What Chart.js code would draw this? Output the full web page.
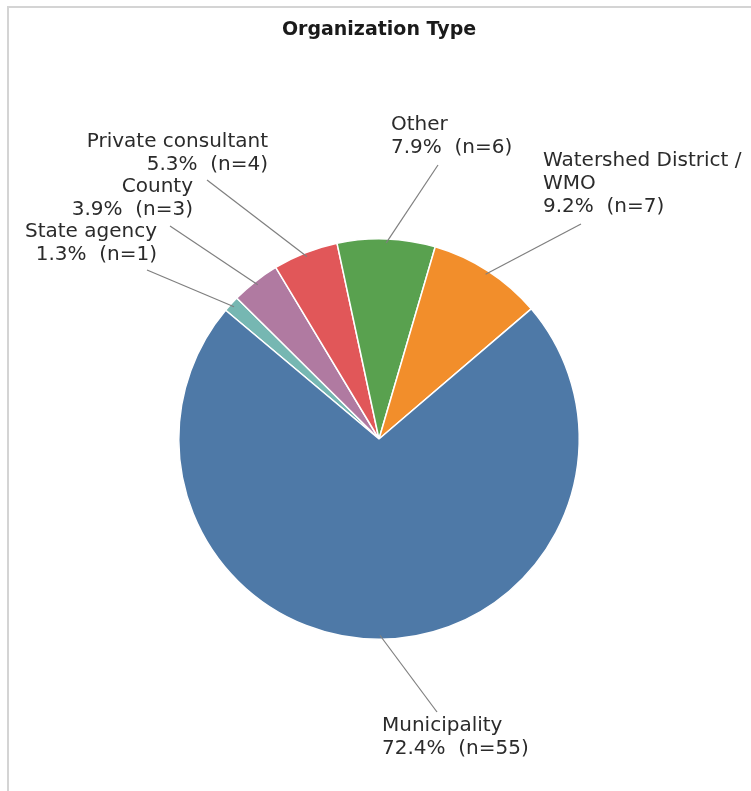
<!DOCTYPE html>
<html>
<head>
<meta charset="utf-8">
<title>Organization Type</title>
<script src="https://cdn.jsdelivr.net/npm/chart.js@4/dist/chart.umd.min.js"></script>
<style>
  html, body { margin: 0; padding: 0; background: #fff; }
  canvas { display: block; }
</style>
</head>
<body>
<canvas id="orgPie" width="751" height="791"></canvas>
<script>
// Slices in drawing (clockwise) order
const categories = ['State agency', 'County', 'Private consultant', 'Other', 'Watershed District / WMO', 'Municipality'];
const labelLines = [['State agency'], ['County'], ['Private consultant'], ['Other'], ['Watershed District /', 'WMO'], ['Municipality']];
const counts = [1, 3, 4, 6, 7, 55];
const colors = ['#76b7b2', '#b07aa1', '#e15759', '#59a14f', '#f28e2b', '#4e79a7'];

// label placement, offsets from the pie centre (text anchor + leader line end)
const labelPos = [
    { dx: -222, dy: -207, align: 'right', lx: -232, ly: -169 },
    { dx: -186, dy: -252, align: 'right', lx: -209, ly: -213 },
    { dx: -111, dy: -297, align: 'right', lx: -172, ly: -259 },
    { dx: 12,   dy: -314, align: 'left',  lx: 59,   ly: -274 },
    { dx: 164,  dy: -278, align: 'left',  lx: 202,  ly: -215 },
    { dx: 3,    dy: 287,  align: 'left',  lx: 58,   ly: 273 }
];

const total = counts.reduce((a, b) => a + b, 0);

const calloutPlugin = {
    id: 'callouts',
    afterDraw(chart) {
        const ctx = chart.ctx;
        const arcs = chart.getDatasetMeta(0).data;
        ctx.save();

        // frame edges
        ctx.strokeStyle = '#d4d4d4';
        ctx.lineWidth = 2;
        ctx.beginPath();
        ctx.moveTo(751, 7);
        ctx.lineTo(8, 7);
        ctx.lineTo(8, 791);
        ctx.stroke();

        // title
        ctx.fillStyle = '#1a1a1a';
        ctx.font = 'bold 19px "DejaVu Sans"';
        ctx.textAlign = 'center';
        ctx.textBaseline = 'middle';
        ctx.fillText('Organization Type', 379, 30);

        ctx.font = '20px "DejaVu Sans"';
        arcs.forEach((arc, i) => {
            const cx = arc.x, cy = arc.y;
            const mid = (arc.startAngle + arc.endAngle) / 2;
            const r = arc.outerRadius * 0.98;
            const pos = labelPos[i];

            // leader line from the slice edge to the label
            ctx.strokeStyle = '#7f7f7f';
            ctx.lineWidth = 1.2;
            ctx.beginPath();
            ctx.moveTo(cx + Math.cos(mid) * r, cy + Math.sin(mid) * r);
            ctx.lineTo(cx + pos.lx, cy + pos.ly);
            ctx.stroke();

            const pct = (counts[i] / total * 100).toFixed(1);
            const lines = labelLines[i].concat([pct + '%  (n=' + counts[i] + ')']);
            ctx.fillStyle = '#2b2b2b';
            ctx.textAlign = pos.align;
            ctx.textBaseline = 'middle';
            lines.forEach((t, k) => {
                ctx.fillText(t, cx + pos.dx, cy + pos.dy + k * 23);
            });
        });
        ctx.restore();
    }
};

new Chart(document.getElementById('orgPie').getContext('2d'), {
    type: 'pie',
    data: {
        labels: categories,
        datasets: [{
            data: counts,
            backgroundColor: colors,
            borderColor: '#ffffff',
            borderWidth: 1.5
        }]
    },
    options: {
        responsive: false,
        animation: false,
        devicePixelRatio: 1,
        rotation: -50,
        layout: {
            padding: { left: 178, right: 171, top: 238, bottom: 151 }
        },
        plugins: {
            legend: { display: false },
            tooltip: { enabled: false },
            title: { display: false }
        }
    },
    plugins: [calloutPlugin]
});
</script>
</body>
</html>
